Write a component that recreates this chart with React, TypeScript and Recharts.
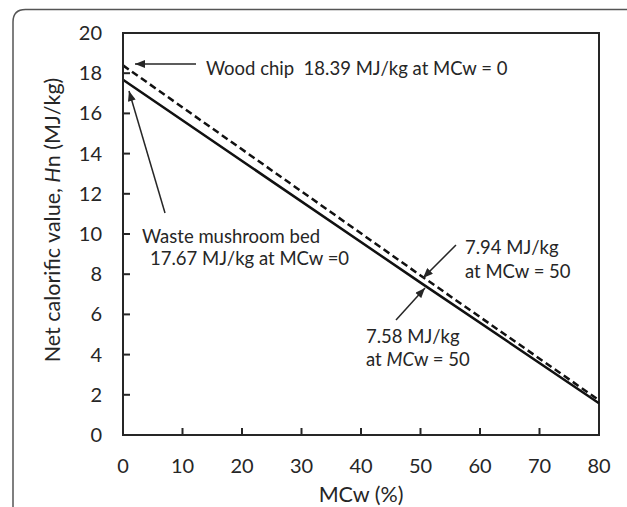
import React from "react";
import { LineChart, Line, XAxis, YAxis, ReferenceArea } from "recharts";

const moisture = [0, 50, 80];
const woodChip = [18.39, 7.94, 1.73];
const mushroomBed = [17.67, 7.58, 1.58];
const xTicks = [0, 10, 20, 30, 40, 50, 60, 70, 80];
const yTicks = [0, 2, 4, 6, 8, 10, 12, 14, 16, 18, 20];

const data = moisture.map((mc, i) => ({ mc, wood: woodChip[i], mushroom: mushroomBed[i] }));

const FONT = "Lato, 'Open Sans', sans-serif";
const INK = "#262626";

function XTick({ x, y, payload }: any) {
  return (
    <g>
      <line x1={x} x2={x} y1={y} y2={y - 7} stroke={INK} strokeWidth={2} />
      <text x={x} y={y + 38} textAnchor="middle" fontSize={20} fontFamily={FONT} fill={INK}>
        {payload.value}
      </text>
    </g>
  );
}

function YTick({ x, y, payload }: any) {
  return (
    <g>
      <line x1={x} x2={x + 7} y1={y} y2={y} stroke={INK} strokeWidth={2} />
      <text x={x - 21} y={y} dy="0.35em" textAnchor="end" fontSize={20} fontFamily={FONT} fill={INK}>
        {payload.value}
      </text>
    </g>
  );
}

function Notes() {
  const t = { fontSize: 18.5, fontFamily: FONT, fill: INK } as const;
  return (
    <svg
      width={627}
      height={507}
      style={{ position: "absolute", left: 0, top: 0, pointerEvents: "none" }}
    >
      <defs>
        <marker
          id="head"
          viewBox="0 0 10 8"
          refX={10}
          refY={4}
          markerWidth={11}
          markerHeight={8}
          markerUnits="userSpaceOnUse"
          orient="auto"
        >
          <path d="M0,0 L10,4 L0,8 z" fill={INK} />
        </marker>
      </defs>
      {/* frame */}
      <path d="M13 507 L13 22 Q13 9.5 25.5 9.5 L627 9.5" stroke="#555" strokeWidth={1.5} fill="none" />

      {/* arrows */}
      <line x1={196} y1={64} x2={135} y2={64} stroke={INK} strokeWidth={1.5} markerEnd="url(#head)" />
      <line x1={165} y1={213} x2={129} y2={91} stroke={INK} strokeWidth={1.5} markerEnd="url(#head)" />
      <line x1={456} y1={245} x2={423} y2={278} stroke={INK} strokeWidth={1.5} markerEnd="url(#head)" />
      <line x1={396} y1={320} x2={425} y2={288} stroke={INK} strokeWidth={1.5} markerEnd="url(#head)" />

      <text x={206} y={75} {...t} style={{ whiteSpace: "pre" }}>
        {"Wood chip  18.39 MJ/kg at MCw = 0"}
      </text>
      <text x={142} y={243} {...t}>Waste mushroom bed</text>
      <text x={150} y={265} {...t}>17.67 MJ/kg at MCw =0</text>
      <text x={465} y={254} {...t}>7.94 MJ/kg</text>
      <text x={465} y={278} {...t}>at MCw = 50</text>
      <text x={366} y={343} {...t}>7.58 MJ/kg</text>
      <text x={366} y={366} {...t}>
        at <tspan fontStyle="italic">MC</tspan>w = 50
      </text>

      {/* axis titles */}
      <text x={361} y={502} textAnchor="middle" fontSize={21.5} fontFamily={FONT} fill={INK}>
        MCw (%)
      </text>
      <text
        x={52}
        y={220}
        textAnchor="middle"
        dominantBaseline="central"
        transform="rotate(-90 52 220)"
        fontSize={21.5}
        fontFamily={FONT}
        fill={INK}
      >
        Net calorific value, <tspan fontStyle="italic">H</tspan>n (MJ/kg)
      </text>
    </svg>
  );
}

export default function App() {
  return (
    <div
      style={{
        position: "absolute",
        left: 0,
        top: 0,
        width: 627,
        height: 507,
        overflow: "hidden",
        background: "#fff",
      }}
    >
      <LineChart width={627} height={507} data={data} margin={{ top: 33, right: 28, left: 0, bottom: 0 }}>
        <ReferenceArea x1={0} x2={80} y1={0} y2={20} fill="none" fillOpacity={0} stroke={INK} strokeWidth={2} />
        <XAxis
          dataKey="mc"
          type="number"
          domain={[0, 80]}
          ticks={xTicks}
          height={72}
          tickSize={0}
          tickMargin={0}
          tickLine={false}
          axisLine={{ stroke: INK, strokeWidth: 2 }}
          tick={<XTick />}
          interval={0}
        />
        <YAxis
          type="number"
          domain={[0, 20]}
          ticks={yTicks}
          width={123}
          tickSize={0}
          tickMargin={0}
          tickLine={false}
          axisLine={{ stroke: INK, strokeWidth: 2 }}
          tick={<YTick />}
          interval={0}
        />
        <Line
          dataKey="wood"
          type="linear"
          stroke="#111"
          strokeWidth={2.5}
          strokeDasharray="7 4"
          dot={false}
          isAnimationActive={false}
        />
        <Line
          dataKey="mushroom"
          type="linear"
          stroke="#111"
          strokeWidth={2.5}
          dot={false}
          isAnimationActive={false}
        />
      </LineChart>
      <Notes />
    </div>
  );
}
